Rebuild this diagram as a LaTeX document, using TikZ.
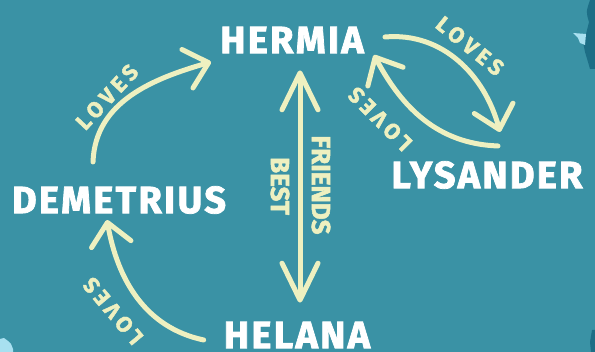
\documentclass[tikz,border=0pt]{standalone}
\usepackage{fontspec}
\setmainfont{Fira Sans}[BoldFeatures={FakeBold=2}]
\usetikzlibrary{arrows.meta}

\definecolor{sea}{HTML}{3A92A5}
\definecolor{chalk}{HTML}{EEF0C0}
\definecolor{deep}{HTML}{1D6E86}
\definecolor{ice}{HTML}{A8E0F0}

\begin{document}
\begin{tikzpicture}[x=1pt, y=1pt,
  person/.style={text=white, font=\bfseries\fontsize{38}{38}\selectfont\addfontfeature{LetterSpace=6}, inner sep=0pt},
  lv/.style={draw=chalk, line width=5pt, line cap=round, -{Straight Barb[length=22pt, width=40pt, round]}},
  bff/.style={draw=chalk, line width=5pt, line cap=round, {Straight Barb[length=37pt, width=36pt, round]}-{Straight Barb[length=37pt, width=36pt, round]}},
  lbl/.style={text=chalk, font=\bfseries\fontsize{22}{22}\selectfont\addfontfeature{LetterSpace=20}, inner sep=0pt},
  lbb/.style={text=chalk, font=\bfseries\fontsize{26}{26}\selectfont, inner sep=0pt},
]
% ── background ──
\useasboundingbox (0,0) rectangle (595,352);
\fill[sea] (0,0) rectangle (595,352);
\fill[deep] (595,352) -- (590,352) .. controls (586,340) .. (589,330) -- (586,318) -- (583,310) -- (585,300) -- (588,290) -- (590,283) -- (595,283) -- cycle;
\fill[ice] (573,319) -- (586,318) -- (585,307) -- (580,309) -- (578,314) -- cycle;
\fill[ice] (0,0) -- (0,13) -- (4,14) -- (8,11) -- (11,8) -- (13,3) -- (13,0) -- cycle;
\fill[deep] (595,0) -- (591,0) -- (590,10) -- (592,22) -- (595,22) -- cycle;

% ── characters ──
\node[person] (her) at (292,312) {HERMIA};
\node[person] (lys) at (487,177) {LYSANDER};
\node[person] (dem) at (119,152) {DEMETRIUS};
\node[person] (hel) at (297,17)  {HELANA};

% ── love arrows ──
\draw[lv] ([shift={(-26,24)}]dem.north) to[out=88, in=196] ([shift={(-9,-22)}]her.west);
\draw[lv] ([shift={(21,3)}]her.east) to[out=5, in=105] ([shift={(13,29)}]lys.north);
\draw[lv] ([shift={(11,15)}]lys.north) to[out=178, in=-62] ([shift={(10,-15)}]her.east);
\draw[lv] ([shift={(-20,-5)}]hel.west) to[out=168, in=-80] ([shift={(-12,-6)}]dem.south);
\draw[bff] ([shift={(8,-17)}]her.south) -- ([shift={(3,19)}]hel.north);

% ── labels ──
\node[lbl, rotate=47]  (l1) at (107,255) {LOVES};
\node[lbl, rotate=-39] (l2) at (470,306) {LOVES};
\node[lbl, rotate=135] (l3) at (380,233) {LOVES};
\node[lbl, rotate=130] (l4) at (113,41)  {LOVES};
\node[lbb, rotate=-90] (best) at (280,166) {BEST};
\node[lbb, rotate=-90] (frd)  at (321,167) {FRIENDS};
\end{tikzpicture}
\end{document}
